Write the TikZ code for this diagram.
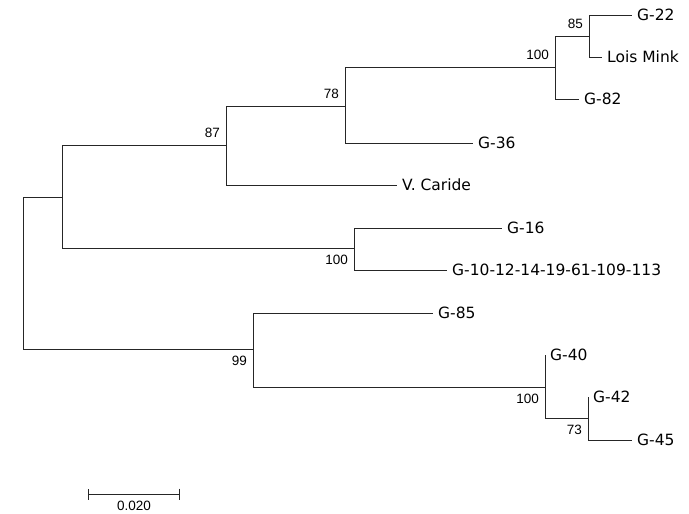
\documentclass[tikz,border=0pt]{standalone}
\usepackage{fontspec}
\setmainfont{DejaVu Sans}
\newfontfamily\bootfont{Liberation Sans}
\usetikzlibrary{arrows.meta}

\begin{document}
\begin{tikzpicture}[x=1pt, y=-1pt]
            % Base settings
            \tikzset{
              branch/.style={line width=1pt, black!85},
              leaf/.style={anchor=west, inner xsep=5pt, inner ysep=0pt, font=\fontsize{15.5}{18}\selectfont},
              bootup/.style={anchor=south east, inner sep=0pt, xshift=-6pt, yshift=7pt, font=\bootfont\fontsize{13.5}{16}\selectfont},
              bootdown/.style={anchor=north east, inner sep=0pt, xshift=-6pt, yshift=-7pt, font=\bootfont\fontsize{13.5}{16}\selectfont}
            }
            \useasboundingbox (0,0) rectangle (689,514);
            
            % --- Internal nodes ---
            \coordinate (root) at (23,273);
            \coordinate (nA) at (62,197);
            \coordinate (n87) at (226,145);
            \coordinate (n78) at (345,106);
            \coordinate (n100a) at (555,67);
            \coordinate (n85) at (589,36);
            \coordinate (n100b) at (354,248);
            \coordinate (n99) at (253,349);
            \coordinate (n100c) at (545,387);
            \coordinate (n73) at (588,418);
            
            % --- Leaves ---
            \node[leaf] (g22) at (632,15) {G-22};
            \node[leaf] (lois) at (602,57) {Lois Mink};
            \node[leaf] (g82) at (579,99) {G-82};
            \node[leaf] (g36) at (473,143) {G-36};
            \node[leaf] (caride) at (397,185) {V. Caride};
            \node[leaf] (g16) at (502,228) {G-16};
            \node[leaf] (g10) at (447,270) {G-10-12-14-19-61-109-113};
            \node[leaf] (g85) at (433,313) {G-85};
            \node[leaf] (g40) at (545,355) {G-40};
            \node[leaf] (g42) at (588,397) {G-42};
            \node[leaf] (g45) at (632,440) {G-45};
            
            % --- Branches ---
            \draw[branch] (root) |- (nA);
            \draw[branch] (root) |- (n99);
            \draw[branch] (nA) |- (n87);
            \draw[branch] (nA) |- (n100b);
            \draw[branch] (n87) |- (n78);
            \draw[branch] (n87) |- (caride.west);
            \draw[branch] (n78) |- (n100a);
            \draw[branch] (n78) |- (g36.west);
            \draw[branch] (n100a) |- (n85);
            \draw[branch] (n100a) |- (g82.west);
            \draw[branch] (n85) |- (g22.west);
            \draw[branch] (n85) |- (lois.west);
            \draw[branch] (n100b) |- (g16.west);
            \draw[branch] (n100b) |- (g10.west);
            \draw[branch] (n99) |- (g85.west);
            \draw[branch] (n99) |- (n100c);
            \draw[branch] (n100c) |- (g40.west);
            \draw[branch] (n100c) |- (n73);
            \draw[branch] (n73) |- (g42.west);
            \draw[branch] (n73) |- (g45.west);
            
            % --- Bootstrap values ---
            \node[bootup] (b85) at (n85) {85};
            \node[bootup] (b100a) at (n100a) {100};
            \node[bootup] (b78) at (n78) {78};
            \node[bootup] (b87) at (n87) {87};
            \node[bootdown] (b100b) at (n100b) {100};
            \node[bootdown] (b99) at (n99) {99};
            \node[bootdown] (b100c) at (n100c) {100};
            \node[bootdown] (b73) at (n73) {73};
            
            % --- Scale bar ---
            \coordinate (scaleL) at (88,494);
            \coordinate (scaleR) at (180,494);
            \draw[branch, {Bar[width=11pt]}-{Bar[width=11pt]}] (scaleL) -- (scaleR);
            \node[anchor=north, inner sep=0pt, font=\bootfont\fontsize{13.5}{16}\selectfont] (scalelab) at (134,501) {0.020};
            
            \end{tikzpicture}
\end{document}
